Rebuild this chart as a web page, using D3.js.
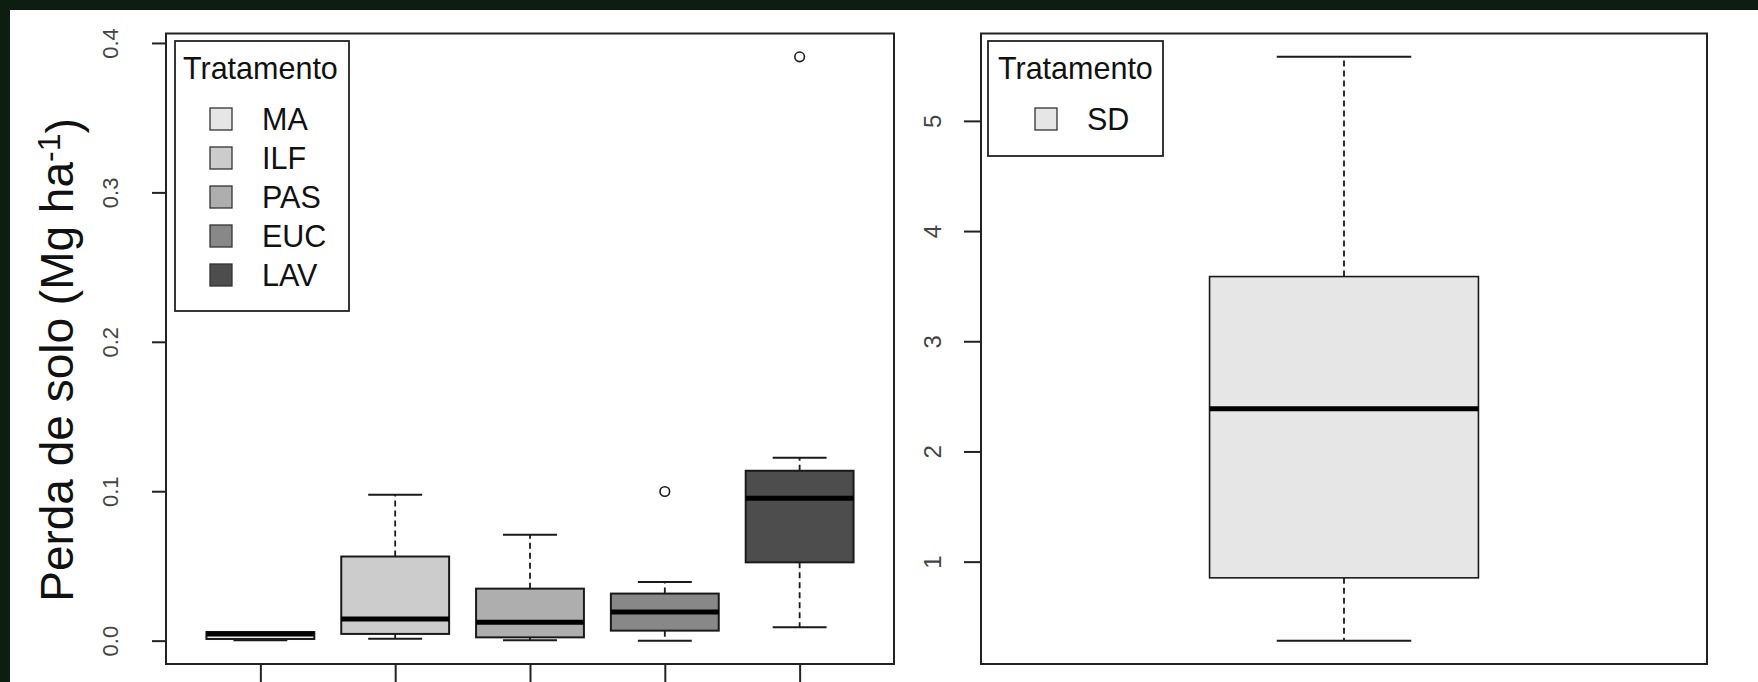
<!DOCTYPE html>
<html>
<head>
<meta charset="utf-8">
<script src="https://cdn.jsdelivr.net/npm/d3@7"></script>
<style>
  html, body { margin: 0; padding: 0; background: #0b1e10; }
  svg { display: block; }
</style>
</head>
<body>
<script>
// Soil loss per treatment: boxplot summaries (Mg ha-1)
const groups = ["MA", "ILF", "PAS", "EUC", "LAV"];
const groupFills = ["#E6E6E6", "#CCCCCC", "#AEAEAE", "#888888", "#4D4D4D"];
const lowerWhisker = [0.0002, 0.0013, 0.0002, 0.0000, 0.0089];
const q1 = [0.0011, 0.0045, 0.0022, 0.0067, 0.0524];
const median = [0.0044, 0.0145, 0.0123, 0.0192, 0.0953];
const q3 = [0.0058, 0.0563, 0.0348, 0.0315, 0.1137];
const upperWhisker = [0.0058, 0.0976, 0.0708, 0.0393, 0.1224];
const outliers = [[], [], [], [0.0998], [0.3907]];
const leftTicks = [0, 0.1, 0.2, 0.3, 0.4];
const leftTickLabels = ["0.0", "0.1", "0.2", "0.3", "0.4"];

// Direct seeding (SD) treatment
const sdGroups = ["SD"];
const sdFills = ["#E6E6E6"];
const sdLower = [0.283];
const sdQ1 = [0.853];
const sdMedian = [2.388];
const sdQ3 = [3.587];
const sdUpper = [5.581];
const sdOutliers = [[]];
const rightTicks = [1, 2, 3, 4, 5];
const rightTickLabels = ["1", "2", "3", "4", "5"];

const legendTitle = "Tratamento";
const FONT = "'Liberation Sans', Arial, Helvetica, sans-serif";

const W = 1758, H = 682;
const svg = d3.select("body").append("svg").attr("width", W).attr("height", H);

// page background with white figure area
svg.append("rect").attr("x", 0).attr("y", 0).attr("width", W).attr("height", H).attr("fill", "#0b1e10");
svg.append("rect").attr("x", 10).attr("y", 10).attr("width", W - 10).attr("height", H - 10).attr("fill", "#ffffff");

// R-style 4% padding around the data range
function padded(lo, hi) {
  const r = hi - lo;
  return [lo - 0.04 * r, hi + 0.04 * r];
}

function drawPanel(opt) {
  const n = opt.groups.length;
  const rows = opt.groups.map((g, i) => ({
    name: g, fill: opt.fills[i], lo: opt.lo[i], q1: opt.q1[i], med: opt.med[i],
    q3: opt.q3[i], hi: opt.hi[i], out: opt.out[i], pos: i + 1
  }));
  const allVals = rows.flatMap(d => [d.lo, d.hi, ...d.out]);
  const x = d3.scaleLinear().domain(padded(0.5, n + 0.5)).range([opt.x0, opt.x1]);
  const y = d3.scaleLinear().domain(padded(d3.min(allVals), d3.max(allVals))).range([opt.y1, opt.y0]);
  const unit = x(2) - x(1);
  const bw = opt.boxwex * unit;
  const g = svg.append("g");

  const box = g.selectAll("g.box").data(rows).join("g").attr("class", "box");
  // whiskers
  box.append("line")
    .attr("x1", d => x(d.pos)).attr("x2", d => x(d.pos))
    .attr("y1", d => y(d.q3)).attr("y2", d => y(d.hi))
    .attr("stroke", "#1a1a1a").attr("stroke-width", 1.8).attr("stroke-dasharray", "6,4");
  box.append("line")
    .attr("x1", d => x(d.pos)).attr("x2", d => x(d.pos))
    .attr("y1", d => y(d.q1)).attr("y2", d => y(d.lo))
    .attr("stroke", "#1a1a1a").attr("stroke-width", 1.8).attr("stroke-dasharray", "6,4");
  // staples
  box.append("line")
    .attr("x1", d => x(d.pos) - bw / 4).attr("x2", d => x(d.pos) + bw / 4)
    .attr("y1", d => y(d.hi)).attr("y2", d => y(d.hi))
    .attr("stroke", "#1a1a1a").attr("stroke-width", 2);
  box.append("line")
    .attr("x1", d => x(d.pos) - bw / 4).attr("x2", d => x(d.pos) + bw / 4)
    .attr("y1", d => y(d.lo)).attr("y2", d => y(d.lo))
    .attr("stroke", "#1a1a1a").attr("stroke-width", 2);
  // box
  box.append("rect")
    .attr("x", d => x(d.pos) - bw / 2).attr("width", bw)
    .attr("y", d => y(d.q3)).attr("height", d => Math.max(1, y(d.q1) - y(d.q3)))
    .attr("fill", d => d.fill).attr("stroke", "#1a1a1a").attr("stroke-width", opt.boxStroke);
  // median
  box.append("line")
    .attr("x1", d => x(d.pos) - bw / 2).attr("x2", d => x(d.pos) + bw / 2)
    .attr("y1", d => y(d.med)).attr("y2", d => y(d.med))
    .attr("stroke", "#000").attr("stroke-width", 5);
  // outliers
  box.selectAll("circle").data(d => d.out.map(v => ({ v, pos: d.pos }))).join("circle")
    .attr("cx", d => x(d.pos)).attr("cy", d => y(d.v)).attr("r", 4.8)
    .attr("fill", "none").attr("stroke", "#1a1a1a").attr("stroke-width", 1.6);

  // frame
  g.append("rect").attr("x", opt.x0).attr("y", opt.y0)
    .attr("width", opt.x1 - opt.x0).attr("height", opt.y1 - opt.y0)
    .attr("fill", "none").attr("stroke", "#222").attr("stroke-width", 2);

  // y axis with labels parallel to the axis
  const yAxis = d3.axisLeft(y).tickValues(opt.ticks)
    .tickFormat((d, i) => opt.tickLabels[i]).tickSize(opt.tickLen);
  const ya = g.append("g").attr("transform", `translate(${opt.x0},0)`).call(yAxis);
  ya.select(".domain").remove();
  ya.selectAll(".tick line").attr("stroke", "#222").attr("stroke-width", 2);
  ya.selectAll(".tick text")
    .attr("x", null).attr("dy", null)
    .attr("transform", `translate(${-opt.labelOff},0) rotate(-90)`)
    .attr("text-anchor", "middle")
    .attr("fill", "#444")
    .style("font-family", FONT).style("font-size", opt.tickFont + "px");

  // x ticks (no labels)
  if (opt.xTicks) {
    const xAxis = d3.axisBottom(x).tickValues(rows.map(d => d.pos)).tickFormat("").tickSize(18);
    const xa = g.append("g").attr("transform", `translate(0,${opt.y1})`).call(xAxis);
    xa.select(".domain").remove();
    xa.selectAll(".tick line").attr("stroke", "#222").attr("stroke-width", 2);
  }

  // legend
  const L = opt.legend;
  const lg = g.append("g");
  lg.append("rect").attr("x", L.x).attr("y", L.y).attr("width", L.w).attr("height", L.h)
    .attr("fill", "#fff").attr("stroke", "#222").attr("stroke-width", 1.8);
  lg.append("text").attr("x", L.titleX).attr("y", L.y + 38).text(legendTitle)
    .attr("fill", "#111").style("font-family", FONT).style("font-size", "30.5px");
  const items = lg.selectAll("g.item").data(rows).join("g").attr("class", "item")
    .attr("transform", (d, i) => `translate(0,${L.y + 78 + i * 39})`);
  items.append("rect").attr("x", L.sqX).attr("y", -11).attr("width", 22).attr("height", 22)
    .attr("fill", d => d.fill).attr("stroke", "#333").attr("stroke-width", 1.3);
  items.append("text").attr("x", L.textX).attr("y", 11).text(d => d.name)
    .attr("fill", "#111").style("font-family", FONT).style("font-size", "30.5px");
}

drawPanel({
  groups, fills: groupFills, lo: lowerWhisker, q1, med: median, q3, hi: upperWhisker, out: outliers,
  x0: 166, x1: 894, y0: 33.5, y1: 664, boxwex: 0.8, boxStroke: 2,
  ticks: leftTicks, tickLabels: leftTickLabels, tickLen: 14, labelOff: 48, tickFont: 22,
  xTicks: true,
  legend: { x: 175, y: 41, w: 174, h: 270, titleX: 183, sqX: 210, textX: 262 }
});

drawPanel({
  groups: sdGroups, fills: sdFills, lo: sdLower, q1: sdQ1, med: sdMedian, q3: sdQ3, hi: sdUpper, out: sdOutliers,
  x0: 981, x1: 1707, y0: 33.5, y1: 664, boxwex: 0.4, boxStroke: 1.6,
  ticks: rightTicks, tickLabels: rightTickLabels, tickLen: 17, labelOff: 40, tickFont: 24,
  xTicks: false,
  legend: { x: 988, y: 41, w: 175, h: 115, titleX: 998, sqX: 1035, textX: 1087 }
});

// y axis title
const title = svg.append("text")
  .attr("transform", "translate(73,360) rotate(-90)")
  .attr("text-anchor", "middle")
  .attr("fill", "#111")
  .style("font-family", FONT).style("font-size", "46px");
title.append("tspan").text("Perda de solo (Mg ha");
title.append("tspan").attr("dy", "-0.42em").style("font-size", "32px").text("-1");
title.append("tspan").attr("dy", "0.42em").text(")");
</script>
</body>
</html>
